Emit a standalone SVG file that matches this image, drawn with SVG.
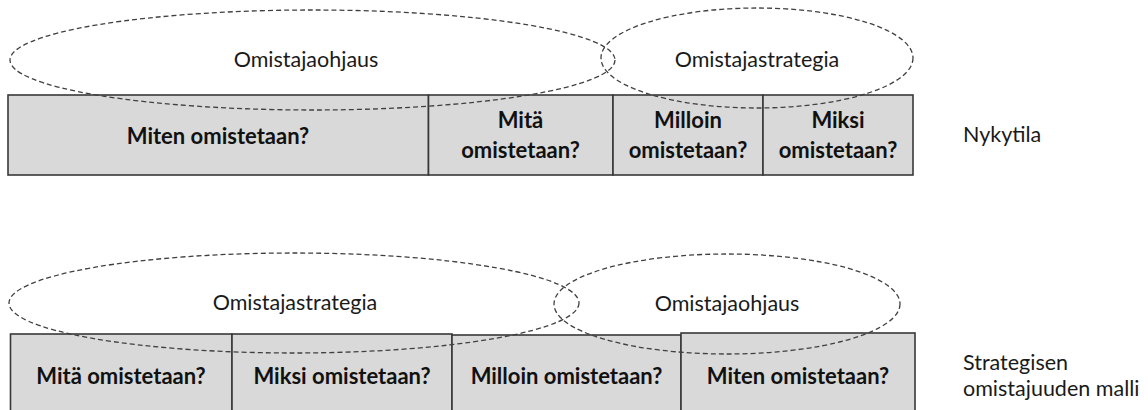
<svg xmlns="http://www.w3.org/2000/svg" width="1148" height="410" viewBox="0 0 1148 410">
  <style>
    .cell { fill: #d9d9d9; stroke: #383838; stroke-width: 1.6; }
    .oval { fill: none; stroke: #404040; stroke-width: 1.3; stroke-dasharray: 5 3; }
    .lbl { font-family: Lato, "Liberation Sans", sans-serif; font-size: 21.5px; fill: #1a1a1a; text-anchor: middle; }
    .side { font-family: Lato, "Liberation Sans", sans-serif; font-size: 21.5px; fill: #1a1a1a; text-anchor: start; }
    .q { font-family: Lato, "Liberation Sans", sans-serif; font-size: 22px; font-weight: bold; fill: #111; text-anchor: middle; }
  </style>
  <rect width="1148" height="410" fill="#ffffff"/>

  <!-- Top row: Nykytila -->
  <g id="top-miten">
    <rect class="cell" x="8" y="95" width="420.5" height="80"/>
    <text class="q" x="218" y="144">Miten omistetaan?</text>
  </g>
  <g id="top-mita">
    <rect class="cell" x="428.5" y="95" width="184.5" height="80"/>
    <text class="q" x="520.5" y="128">Mitä</text>
    <text class="q" x="520.5" y="158">omistetaan?</text>
  </g>
  <g id="top-milloin">
    <rect class="cell" x="613" y="95" width="150" height="80"/>
    <text class="q" x="688" y="128">Milloin</text>
    <text class="q" x="688" y="158">omistetaan?</text>
  </g>
  <g id="top-miksi">
    <rect class="cell" x="763" y="95" width="150" height="80"/>
    <text class="q" x="838" y="128">Miksi</text>
    <text class="q" x="838" y="158">omistetaan?</text>
  </g>
  <g id="top-omistajaohjaus">
    <ellipse class="oval" cx="312.5" cy="60" rx="302.5" ry="50"/>
    <text class="lbl" x="306" y="67">Omistajaohjaus</text>
  </g>
  <g id="top-omistajastrategia">
    <ellipse class="oval" cx="757" cy="58" rx="156" ry="50"/>
    <text class="lbl" x="757" y="67">Omistajastrategia</text>
  </g>
  <g id="label-nykytila">
    <text class="side" x="963" y="142">Nykytila</text>
  </g>

  <!-- Bottom row: Strategisen omistajuuden malli -->
  <g id="bottom-mita">
    <rect class="cell" x="10.5" y="334" width="221.5" height="90"/>
    <text class="q" x="121" y="384">Mitä omistetaan?</text>
  </g>
  <g id="bottom-miksi">
    <rect class="cell" x="232" y="334" width="220" height="90"/>
    <text class="q" x="342" y="384">Miksi omistetaan?</text>
  </g>
  <g id="bottom-milloin">
    <rect class="cell" x="452" y="335" width="229" height="90"/>
    <text class="q" x="566.5" y="384">Milloin omistetaan?</text>
  </g>
  <g id="bottom-miten">
    <rect class="cell" x="681" y="333" width="234" height="90"/>
    <text class="q" x="798" y="384">Miten omistetaan?</text>
  </g>
  <g id="bottom-omistajastrategia">
    <ellipse class="oval" cx="294" cy="303" rx="285" ry="50"/>
    <text class="lbl" x="295" y="310">Omistajastrategia</text>
  </g>
  <g id="bottom-omistajaohjaus">
    <ellipse class="oval" cx="727" cy="304" rx="173" ry="50"/>
    <text class="lbl" x="727" y="311">Omistajaohjaus</text>
  </g>
  <g id="label-strategisen">
    <text class="side" x="963" y="370">Strategisen</text>
    <text class="side" x="963" y="396">omistajuuden malli</text>
  </g>

  <g id="connectors"/>
</svg>
